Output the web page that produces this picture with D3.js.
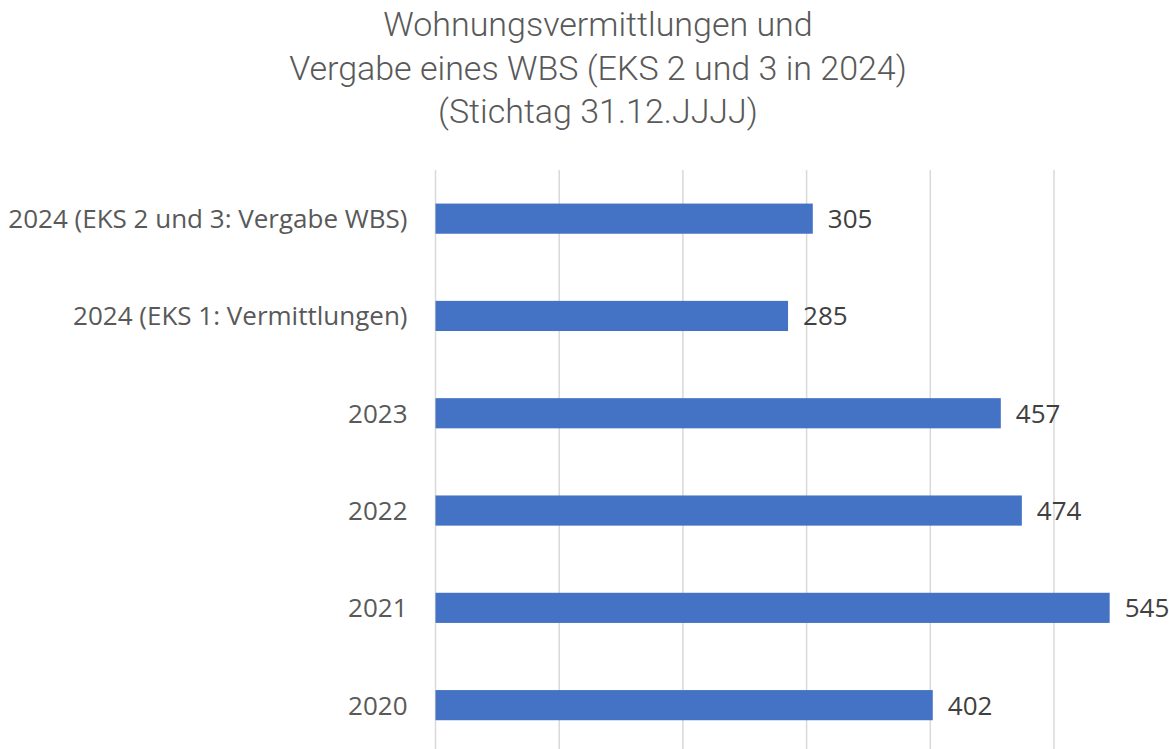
<!DOCTYPE html>
<html>
<head>
<meta charset="utf-8">
<script src="https://cdn.jsdelivr.net/npm/d3@7"></script>
<style>
  body { margin: 0; background: #fff; }
</style>
</head>
<body>
<script>
// categories top to bottom
const categories = ["2024 (EKS 2 und 3: Vergabe WBS)", "2024 (EKS 1: Vermittlungen)", "2023", "2022", "2021", "2020"];
const values = [305, 285, 457, 474, 545, 402];
const gridTicks = [0, 100, 200, 300, 400, 500];
const titleLines = ["Wohnungsvermittlungen und", "Vergabe eines WBS (EKS 2 und 3 in 2024)", "(Stichtag 31.12.JJJJ)"];

const W = 1169, H = 749;
const margin = {top: 170, left: 435.5, right: W - 1177.7};

const svg = d3.select("body").append("svg")
    .attr("width", W)
    .attr("height", H);

const x = d3.scaleLinear().domain([0, 600]).range([margin.left, W - margin.right]);
const y = d3.scaleBand().domain(categories).range([margin.top, margin.top + 97.3 * 6]).paddingInner(0.69).paddingOuter(0.345);

// vertical gridlines
svg.append("g").selectAll("line")
    .data(gridTicks)
    .join("line")
    .attr("x1", d => x(d)).attr("x2", d => x(d))
    .attr("y1", margin.top).attr("y2", H + 10)
    .attr("stroke", "#d9d9d9")
    .attr("stroke-width", 1.5);

// bars
svg.append("g").selectAll("rect")
    .data(values)
    .join("rect")
    .attr("x", x(0))
    .attr("y", (d, i) => y(categories[i]))
    .attr("width", d => x(d) - x(0))
    .attr("height", y.bandwidth())
    .attr("fill", "#4472c4");

// value labels
svg.append("g").selectAll("text")
    .data(values)
    .join("text")
    .attr("x", d => x(d) + 15)
    .attr("y", (d, i) => y(categories[i]) + y.bandwidth() / 2)
    .attr("dy", "0.36em")
    .attr("font-family", "Open Sans, sans-serif")
    .attr("font-size", 26)
    .attr("fill", "#404040")
    .text(d => d);

// category labels
svg.append("g").selectAll("text")
    .data(categories)
    .join("text")
    .attr("x", margin.left - 28)
    .attr("y", d => y(d) + y.bandwidth() / 2)
    .attr("dy", "0.36em")
    .attr("text-anchor", "end")
    .attr("font-family", "Open Sans, sans-serif")
    .attr("font-size", 26)
    .attr("fill", "#595959")
    .text(d => d);

// title
svg.append("g").selectAll("text")
    .data(titleLines)
    .join("text")
    .attr("x", 598)
    .attr("y", (d, i) => 36 + i * 43.5)
    .attr("text-anchor", "middle")
    .attr("font-family", "Roboto, sans-serif")
    .attr("font-weight", 300)
    .attr("font-size", 34)
    .attr("fill", "#595959")
    .text(d => d);
</script>
</body>
</html>
